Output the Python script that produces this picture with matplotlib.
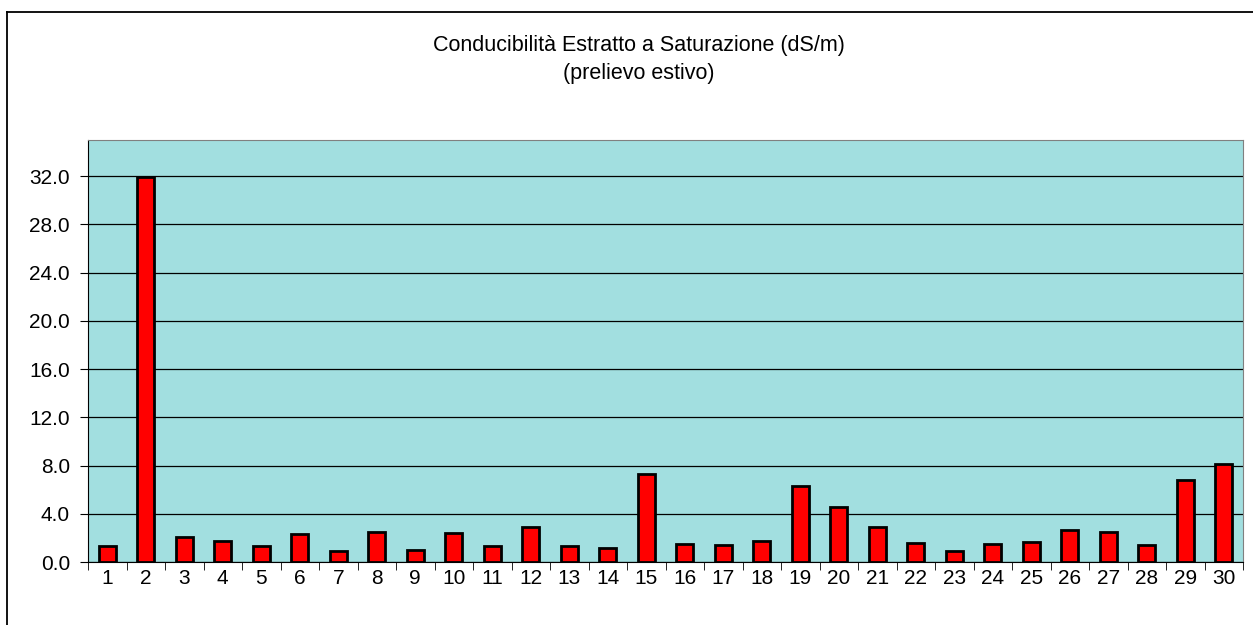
import numpy as np
import matplotlib
matplotlib.use("Agg")
import matplotlib.pyplot as plt
from matplotlib.lines import Line2D

plt.rcParams['font.family'] = ['Liberation Sans', 'DejaVu Sans']

# sample number and conductivity (dS/m)
campioni = [str(i) for i in range(1, 31)]
conducibilita = [1.3, 31.9, 2.1, 1.75, 1.3, 2.33, 0.94, 2.52, 1.02, 2.38,
                 1.35, 2.91, 1.3, 1.16, 7.28, 1.52, 1.38, 1.75, 6.28, 4.54,
                 2.91, 1.6, 0.94, 1.46, 1.63, 2.63, 2.49, 1.38, 6.84, 8.09]
y_ticks = [0, 4, 8, 12, 16, 20, 24, 28, 32]

W, H = 1253, 625
fig = plt.figure(figsize=(W / 100, H / 100), dpi=100)

# outer chart frame (only left and top edges visible in the crop)
fig.lines.append(Line2D([7 / W, 7 / W], [0, 1 - 12 / H], transform=fig.transFigure,
                        color='black', linewidth=1.3))
fig.lines.append(Line2D([7 / W, 1], [1 - 12 / H, 1 - 12 / H], transform=fig.transFigure,
                        color='black', linewidth=1.3))

ax = fig.add_axes([88 / W, 63 / H, 1155 / W, 422 / H])
ax.set_facecolor('#A2DFE0')

x = np.arange(len(campioni))
ax.bar(x, conducibilita, width=0.45, color='#FF0000', edgecolor='black',
       linewidth=2.0, zorder=3)

ax.set_xlim(-0.5, len(campioni) - 0.5)
ax.set_ylim(0, 35)
ax.set_yticks(y_ticks)
ax.set_yticklabels([f"{v:.1f}" for v in y_ticks], fontsize=15)
ax.yaxis.grid(True, color='black', linewidth=0.9, zorder=1)

ax.set_xticks(x)
ax.set_xticklabels(campioni, fontsize=15)
ax.tick_params(axis='x', length=0, pad=5)
ax.set_xticks(np.arange(-0.5, len(campioni), 1), minor=True)
ax.tick_params(axis='x', which='minor', length=6, direction='out', color='black')
ax.tick_params(axis='y', length=6, direction='out', pad=7)

for s in ['top', 'right']:
    ax.spines[s].set_color('#808080')
for s in ['left', 'bottom']:
    ax.spines[s].set_color('black')

fig.text(639 / W, 1 - 45 / H, "Conducibilità Estratto a Saturazione (dS/m)",
         ha='center', va='center', fontsize=15.5)
fig.text(639 / W, 1 - 73 / H, "(prelievo estivo)",
         ha='center', va='center', fontsize=15.5)

fig.savefig("out.png", dpi=100)
